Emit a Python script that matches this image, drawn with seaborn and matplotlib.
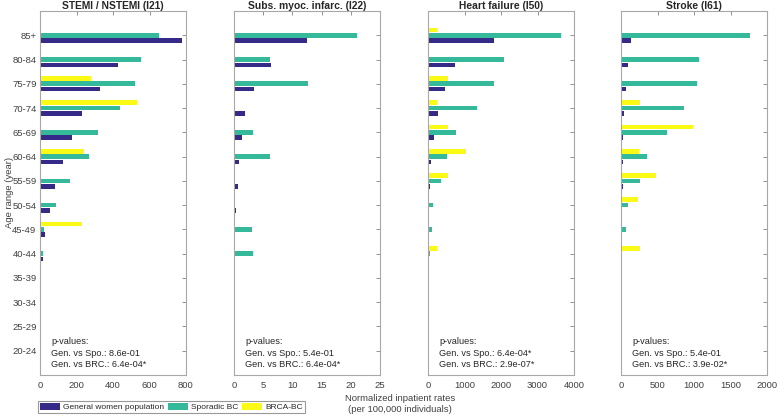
import numpy as np
import pandas as pd
import matplotlib
matplotlib.use("Agg")
import matplotlib.pyplot as plt
from matplotlib.patches import Patch
import seaborn as sns

sns.set_style("white")
plt.rcParams["font.family"] = ["Liberation Sans", "DejaVu Sans"]

# Data
ages = ["85+", "80-84", "75-79", "70-74", "65-69", "60-64", "55-59",
        "50-54", "45-49", "40-44", "35-39", "30-34", "25-29", "20-24"]
groups = ["General women population", "Sporadic BC", "BRCA-BC"]
colors = {"General women population": "#352A87",
          "Sporadic BC": "#35B99B",
          "BRCA-BC": "#FAFA14"}

titles = ["STEMI / NSTEMI (I21)", "Subs. myoc. infarc. (I22)",
          "Heart failure (I50)", "Stroke (I61)"]

i21_gen = [778, 427, 331, 230, 175, 127, 83, 53, 29, 15, 5, 0, 0, 0]
i21_spo = [653, 555, 519, 441, 316, 270, 167, 88, 20, 17, 7, 2, 0, 0]
i21_brc = [0, 0, 280, 533, 0, 239, 0, 0, 230, 0, 0, 0, 0, 0]

i22_gen = [12.5, 6.4, 3.5, 1.8, 1.3, 0.9, 0.6, 0.3, 0.1, 0.15, 0, 0, 0, 0]
i22_spo = [21.0, 6.2, 12.6, 0, 3.3, 6.2, 0, 0, 3.0, 3.2, 0, 0, 0, 0]
i22_brc = [0, 0, 0, 0, 0, 0, 0, 0, 0, 0, 0, 0, 0, 0]

i50_gen = [1812, 732, 467, 275, 156, 92, 55, 18, 9, 0, 0, 0, 0, 0]
i50_spo = [3634, 2069, 1812, 1355, 769, 513, 357, 128, 100, 46, 0, 0, 0, 0]
i50_brc = [247, 0, 540, 247, 540, 1034, 549, 0, 0, 256, 0, 0, 0, 0]

i61_gen = [133, 92, 69, 46, 32, 28, 23, 18, 14, 0, 0, 0, 0, 0]
i61_spo = [1761, 1073, 1041, 867, 624, 362, 261, 92, 64, 18, 14, 0, 0, 0]
i61_brc = [0, 0, 0, 261, 982, 248, 477, 234, 0, 261, 0, 0, 0, 0]

xmax = [800, 25, 4000, 2000]
xticks = [[0, 200, 400, 600, 800], [0, 5, 10, 15, 20, 25],
          [0, 1000, 2000, 3000, 4000], [0, 500, 1000, 1500, 2000]]
pvals = [("8.6e-01", "6.4e-04*"), ("5.4e-01", "6.4e-04*"),
         ("6.4e-04*", "2.9e-07*"), ("5.4e-01", "3.9e-02*")]

panels = [(i21_gen, i21_spo, i21_brc), (i22_gen, i22_spo, i22_brc),
          (i50_gen, i50_spo, i50_brc), (i61_gen, i61_spo, i61_brc)]

fig = plt.figure(figsize=(7.77, 4.17), dpi=100)
lefts = [40, 234, 428, 621]
W, H = 777, 417
hue_order = ["BRCA-BC", "Sporadic BC", "General women population"]

for i, (gen, spo, brc) in enumerate(panels):
    ax = fig.add_axes([lefts[i] / W, 1 - 375 / H, 146 / W, 364 / H])
    df = pd.DataFrame({
        "age": ages * 3,
        "rate": list(gen) + list(spo) + list(brc),
        "group": [groups[0]] * 14 + [groups[1]] * 14 + [groups[2]] * 14,
    })
    sns.barplot(data=df, x="rate", y="age", hue="group", order=ages,
                hue_order=hue_order, palette=colors, orient="h", saturation=1,
                width=0.66, gap=0.12, linewidth=0, ax=ax, legend=False)
    ax.set_xlim(0, xmax[i])
    ax.set_ylim(14, -1)
    ax.set_xticks(xticks[i])
    ax.set_title(titles[i], fontsize=7.4, fontweight="bold", pad=1.5)
    ax.set_xlabel("")
    ax.set_ylabel("")
    for s in ax.spines.values():
        s.set_color("#a8a8a8")
        s.set_linewidth(0.8)
    ax.tick_params(axis="both", direction="in", length=3, width=0.6,
                   color="#808080", labelsize=6.8, labelcolor="#404040",
                   top=True, right=True, pad=2.5)
    ax.tick_params(axis="x", pad=4.5)
    if i > 0:
        ax.set_yticklabels([])
    ax.text(0.077, 0.06, "p-values:\nGen. vs Spo.: %s\nGen. vs BRC.: %s" % pvals[i],
            transform=ax.transAxes, fontsize=6.6, color="#262626",
            va="center", ha="left", linespacing=1.38)

fig.text(10 / W, 1 - 192 / H, "Age range (year)", rotation=90, ha="center",
         va="center", fontsize=6.8, color="#404040")
fig.text(400 / W, 1 - 404 / H, "Normalized inpatient rates\n(per 100,000 individuals)",
         ha="center", va="center", fontsize=6.8, color="#404040", linespacing=1.35)

handles = [Patch(facecolor=colors[g], edgecolor="none", label=g) for g in groups]
leg = fig.legend(handles=handles, loc="center left", ncol=3,
                 bbox_to_anchor=(38 / W, 1 - 407 / H), fontsize=6,
                 frameon=True, fancybox=False, handlelength=2.4,
                 handleheight=0.9, handletextpad=0.4, columnspacing=0.4,
                 borderpad=0.25, borderaxespad=0)
leg.get_frame().set_edgecolor("#808080")
leg.get_frame().set_linewidth(0.8)

fig.savefig("out.png", dpi=100)
